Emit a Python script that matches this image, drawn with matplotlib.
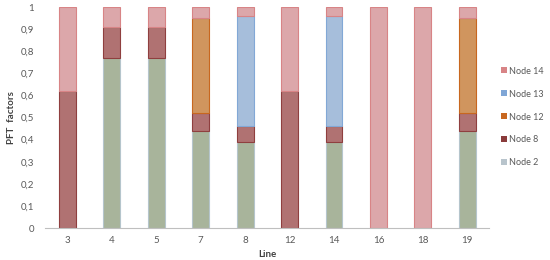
import matplotlib.pyplot as plt
import numpy as np

lines = ['3', '4', '5', '7', '8', '12', '14', '16', '18', '19']
node2 = [0, 0.77, 0.77, 0.44, 0.39, 0, 0.39, 0, 0, 0.44]
node8 = [0.62, 0.14, 0.14, 0.08, 0.07, 0.62, 0.07, 0, 0, 0.08]
node12 = [0, 0, 0, 0.43, 0, 0, 0, 0, 0, 0.43]
node13 = [0, 0, 0, 0, 0.50, 0, 0.50, 0, 0, 0]
node14 = [0.38, 0.09, 0.09, 0.05, 0.04, 0.38, 0.04, 1.0, 1.0, 0.05]

series = [
    ('Node 2', node2, '#a8b49b', '#b5c5cc', '#b8c4cc'),
    ('Node 8', node8, '#b07272', '#8f3f3f', '#8a3b3b'),
    ('Node 12', node12, '#d0955e', '#c8671f', '#c8671f'),
    ('Node 13', node13, '#a6bedb', '#82a8d6', '#7fa6d6'),
    ('Node 14', node14, '#dca7aa', '#d88486', '#d88486'),
]

plt.rcParams['font.family'] = ['Lato', 'DejaVu Sans']

fig = plt.figure(figsize=(5.5, 2.6), dpi=100)
ax = fig.add_axes([0.082, 0.123, 0.808, 0.85])

x = np.arange(len(lines))
bottom = np.zeros(len(lines))
handles = []
for name, vals, fc, ec, lc in series:
    vals = np.array(vals)
    ax.bar(x, vals, 0.38, bottom=bottom, color=fc, edgecolor=ec, linewidth=0.8)
    bottom += vals
    handles.append(plt.Rectangle((0, 0), 1, 1, facecolor=lc, edgecolor='none', label=name))

ax.set_xlim(-0.5, len(lines) - 0.5)
ax.set_ylim(0, 1)
ax.set_yticks(np.arange(0, 1.01, 0.1))
ax.set_yticklabels(['0'] + ['0,%d' % i for i in range(1, 10)] + ['1'])
ax.set_xticks(x)
ax.set_xticklabels(lines)
ax.tick_params(length=0, labelsize=7, labelcolor='#595959', pad=6)
ax.tick_params(axis='y', pad=8)

for s in ['top', 'right', 'left']:
    ax.spines[s].set_visible(False)
ax.spines['bottom'].set_color('#bfbfbf')
ax.spines['bottom'].set_linewidth(0.8)

ax.set_xlabel('Line', fontsize=7, fontweight='bold', color='#404040', labelpad=3)
ax.set_ylabel('PFT  factors', fontsize=7, fontweight='bold', color='#404040', labelpad=3)

fig.legend(handles=handles[::-1], loc='center left', bbox_to_anchor=(0.9, 0.55),
           frameon=False, fontsize=6.5, labelcolor='#595959', handlelength=0.65,
           handleheight=0.65, handletextpad=0.25, labelspacing=1.55,
           borderpad=0.2)

fig.savefig('out.png', dpi=100)
